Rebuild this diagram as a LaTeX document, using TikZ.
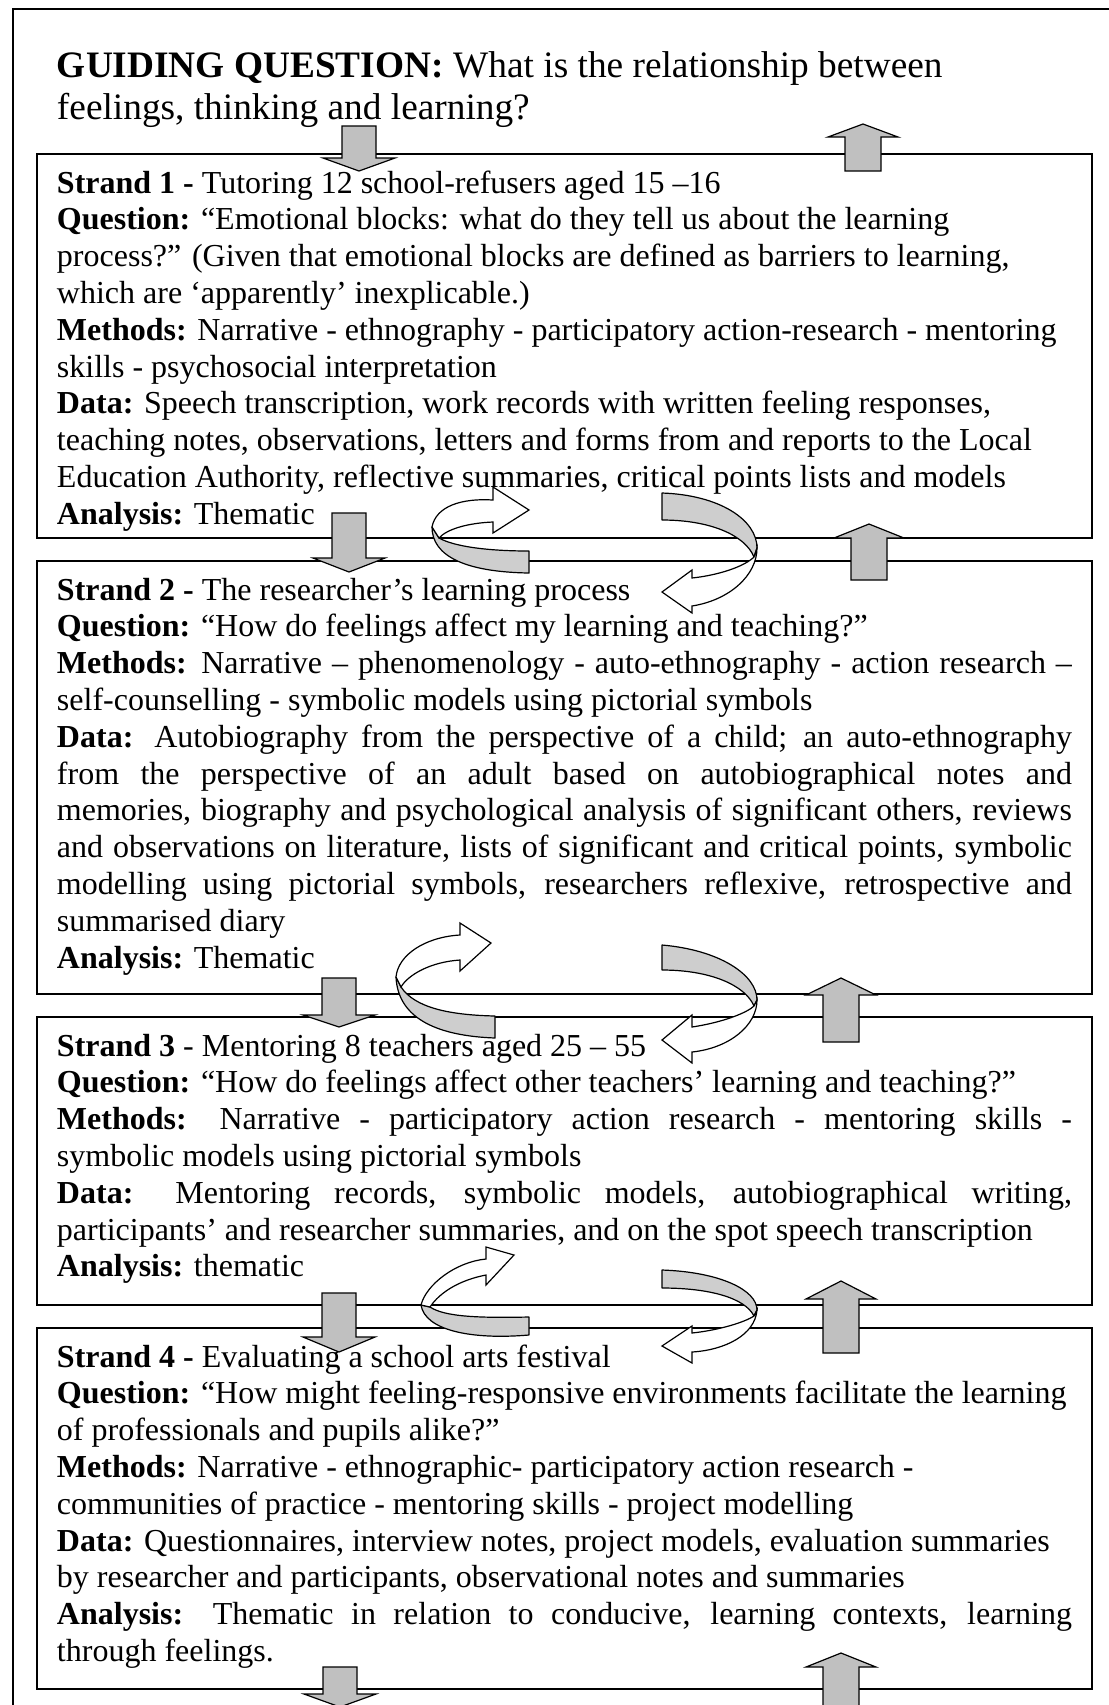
\documentclass[tikz,border=0pt]{standalone}
\usepackage{fontspec}
\setmainfont{Liberation Serif}
\definecolor{arrowgray}{RGB}{192,192,192}
\definecolor{ribbongray}{RGB}{206,206,206}
% one line of a text block: ragged (\rl) or spread to the full measure (\jl)
\newcommand\rl[1]{\hbox{#1}}
\newcommand\jl[1]{\hbox to\hsize{#1}}
% a strand's text: 12pt lines on a fixed 13.8pt grid
\newcommand\strandtext[1]{\vtop{\hsize=380.6pt\parindent=0pt
  \fontsize{12pt}{13.8pt}\selectfont\lineskiplimit=-50pt #1}}
% block arrows: centre x, tail y, head-base y, tip y
\newcommand\downblock[4]{\filldraw[block] ({#1-17},#2) -- ({#1+17},#2) -- ({#1+17},#3)
  -- ({#1+36},#3) -- (#1,#4) -- ({#1-36},#3) -- ({#1-17},#3) -- cycle;}
\newcommand\upblock[4]{\filldraw[block] ({#1-18},#2) -- ({#1+18},#2) -- ({#1+18},#3)
  -- ({#1+35},#3) -- (#1,#4) -- ({#1-35},#3) -- ({#1-18},#3) -- cycle;}
\begin{document}
\begin{tikzpicture}[x=0.375pt,y=-0.375pt,
  txt/.style={anchor=base west,inner sep=0pt,outer sep=0pt},
  boxline/.style={draw=black,line width=0.55pt},
  frameline/.style={draw=black,line width=0.7pt},
  block/.style={draw=black,fill=arrowgray,line width=0.45pt,line join=miter},
  ribbonback/.style={draw=black,fill=ribbongray,line width=0.45pt,line join=round},
  ribbonfront/.style={draw=black,fill=white,line width=0.45pt,line join=miter}]
\useasboundingbox (0,0) rectangle (1109,1705);

% page frame (runs off the right and bottom edges)
\draw[frameline] (13,1720) -- (13,9) -- (1125,9);

% guiding question
\node[txt] (head) at (57,77) {\vtop{\fontsize{14pt}{16.1pt}\selectfont\lineskiplimit=-50pt
  \hbox{\textbf{GUIDING QUESTION:} What is the relationship between}
  \hbox{feelings, thinking and learning?}}};

% strand boxes
\draw[boxline] (37,154) rectangle (1092,538);
\draw[boxline] (37,561) rectangle (1092,994);
\draw[boxline] (37,1017) rectangle (1092,1305);
\draw[boxline] (37,1328) rectangle (1092,1689);

\node[txt] (s1) at (57,193) {\strandtext{
\rl{\textbf{Strand 1 -} Tutoring 12 school-refusers aged 15 –16}
\rl{\textbf{Question:} “Emotional blocks: what do they tell us about the learning}
\rl{process?” (Given that emotional blocks are defined as barriers to learning,}
\rl{which are ‘apparently’ inexplicable.)}
\rl{\textbf{Methods:} Narrative - ethnography - participatory action-research - mentoring}
\rl{skills - psychosocial interpretation}
\rl{\textbf{Data:} Speech transcription, work records with written feeling responses,}
\rl{teaching notes, observations, letters and forms from and reports to the Local}
\rl{Education Authority, reflective summaries, critical points lists and models}
\rl{\textbf{Analysis:} Thematic}}};

\node[txt] (s2) at (57,600) {\strandtext{
\rl{\textbf{Strand 2 -} The researcher’s learning process}
\rl{\textbf{Question:} “How do feelings affect my learning and teaching?”}
\jl{\textbf{Methods:} Narrative – phenomenology - auto-ethnography - action research –}
\rl{self-counselling - symbolic models using pictorial symbols}
\jl{\textbf{Data:} Autobiography from the perspective of a child; an auto-ethnography}
\jl{from the perspective of an adult based on autobiographical notes and}
\jl{memories, biography and psychological analysis of significant others, reviews}
\jl{and observations on literature, lists of significant and critical points, symbolic}
\jl{modelling using pictorial symbols, researchers reflexive, retrospective and}
\rl{summarised diary}
\rl{\textbf{Analysis:} Thematic}}};

\node[txt] (s3) at (57,1056) {\strandtext{
\rl{\textbf{Strand 3} - Mentoring 8 teachers aged 25 – 55}
\rl{\textbf{Question:} “How do feelings affect other teachers’ learning and teaching?”}
\jl{\textbf{Methods:} Narrative - participatory action research - mentoring skills -}
\rl{symbolic models using pictorial symbols}
\jl{\textbf{Data:} Mentoring records, symbolic models, autobiographical writing,}
\rl{participants’ and researcher summaries, and on the spot speech transcription}
\rl{\textbf{Analysis:} thematic}}};

\node[txt] (s4) at (57,1367) {\strandtext{
\rl{\textbf{Strand 4 -} Evaluating a school arts festival}
\rl{\textbf{Question:} “How might feeling-responsive environments facilitate the learning}
\rl{of professionals and pupils alike?”}
\rl{\textbf{Methods:} Narrative - ethnographic- participatory action research -}
\rl{communities of practice - mentoring skills - project modelling}
\rl{\textbf{Data:} Questionnaires, interview notes, project models, evaluation summaries}
\rl{by researcher and participants, observational notes and summaries}
\jl{\textbf{Analysis:} Thematic in relation to conducive, learning contexts, learning}
\rl{through feelings.}}};

% downward flow (left) and upward flow (right)
\downblock{359}{126}{158}{171}
\upblock{863}{171}{137}{124}
\downblock{349}{513}{558}{572}
\upblock{869}{580}{538}{524}
\downblock{339}{978}{1015}{1027}
\upblock{841}{1042}{995}{978}
\downblock{339}{1293}{1337}{1352}
\upblock{841}{1353}{1299}{1281}
\downblock{340}{1667}{1694}{1707}
\upblock{841}{1707}{1667}{1653}

% twisted loop arrows between strands 1 and 2
\filldraw[ribbonback] (439,538) .. controls (455,547) and (490,551) .. (529,551)
  -- (529,573) .. controls (465,572) and (432,556) .. (432,527) -- cycle;
\filldraw[ribbonfront] (432,527) .. controls (436,506) and (462,498) .. (493,500)
  -- (493,487) -- (529,510) -- (493,533) -- (493,522)
  .. controls (468,523) and (447,529) .. (439,538) -- cycle;
\filldraw[ribbonback] (662,493) .. controls (720,495) and (757,520) .. (757,548)
  -- (754,557) .. controls (745,535) and (710,520) .. (662,520) -- cycle;
\filldraw[ribbonfront] (757,548) .. controls (757,575) and (730,600) .. (692,606)
  -- (692,613) -- (662,592) -- (692,570) -- (692,578)
  .. controls (720,575) and (745,566) .. (754,557) -- cycle;

% twisted loop arrows between strands 2 and 3
\filldraw[ribbonback] (401,987) .. controls (415,1008) and (450,1015) .. (495,1016)
  -- (495,1038) .. controls (440,1036) and (398,1020) .. (396,977) -- cycle;
\filldraw[ribbonfront] (396,977) .. controls (398,955) and (425,937) .. (460,935)
  -- (460,923) -- (491,943) -- (460,971) -- (460,960)
  .. controls (430,962) and (408,975) .. (401,987) -- cycle;
\filldraw[ribbonback] (662,945) .. controls (720,950) and (757,975) .. (757,1000)
  -- (754,1006) .. controls (745,985) and (710,970) .. (662,970) -- cycle;
\filldraw[ribbonfront] (757,1000) .. controls (757,1025) and (730,1048) .. (692,1052)
  -- (692,1063) -- (662,1040) -- (692,1015) -- (692,1027)
  .. controls (725,1022) and (748,1012) .. (754,1006) -- cycle;

% twisted loop arrows between strands 3 and 4
\filldraw[ribbonback] (430,1307) .. controls (445,1317) and (480,1318) .. (529,1317)
  -- (529,1335) .. controls (470,1340) and (425,1330) .. (421,1305) -- cycle;
\filldraw[ribbonfront] (421,1305) .. controls (426,1285) and (455,1262) .. (486,1259)
  -- (486,1247) -- (514,1255) -- (486,1285) -- (486,1275)
  .. controls (460,1280) and (440,1292) .. (430,1307) -- cycle;
\filldraw[ribbonback] (662,1270) .. controls (720,1272) and (757,1290) .. (757,1310)
  -- (754,1316) .. controls (745,1298) and (710,1288) .. (662,1288) -- cycle;
\filldraw[ribbonfront] (757,1310) .. controls (755,1335) and (725,1350) .. (692,1352)
  -- (692,1363) -- (662,1346) -- (692,1326) -- (692,1333)
  .. controls (720,1330) and (745,1322) .. (754,1316) -- cycle;
\end{tikzpicture}
\end{document}
